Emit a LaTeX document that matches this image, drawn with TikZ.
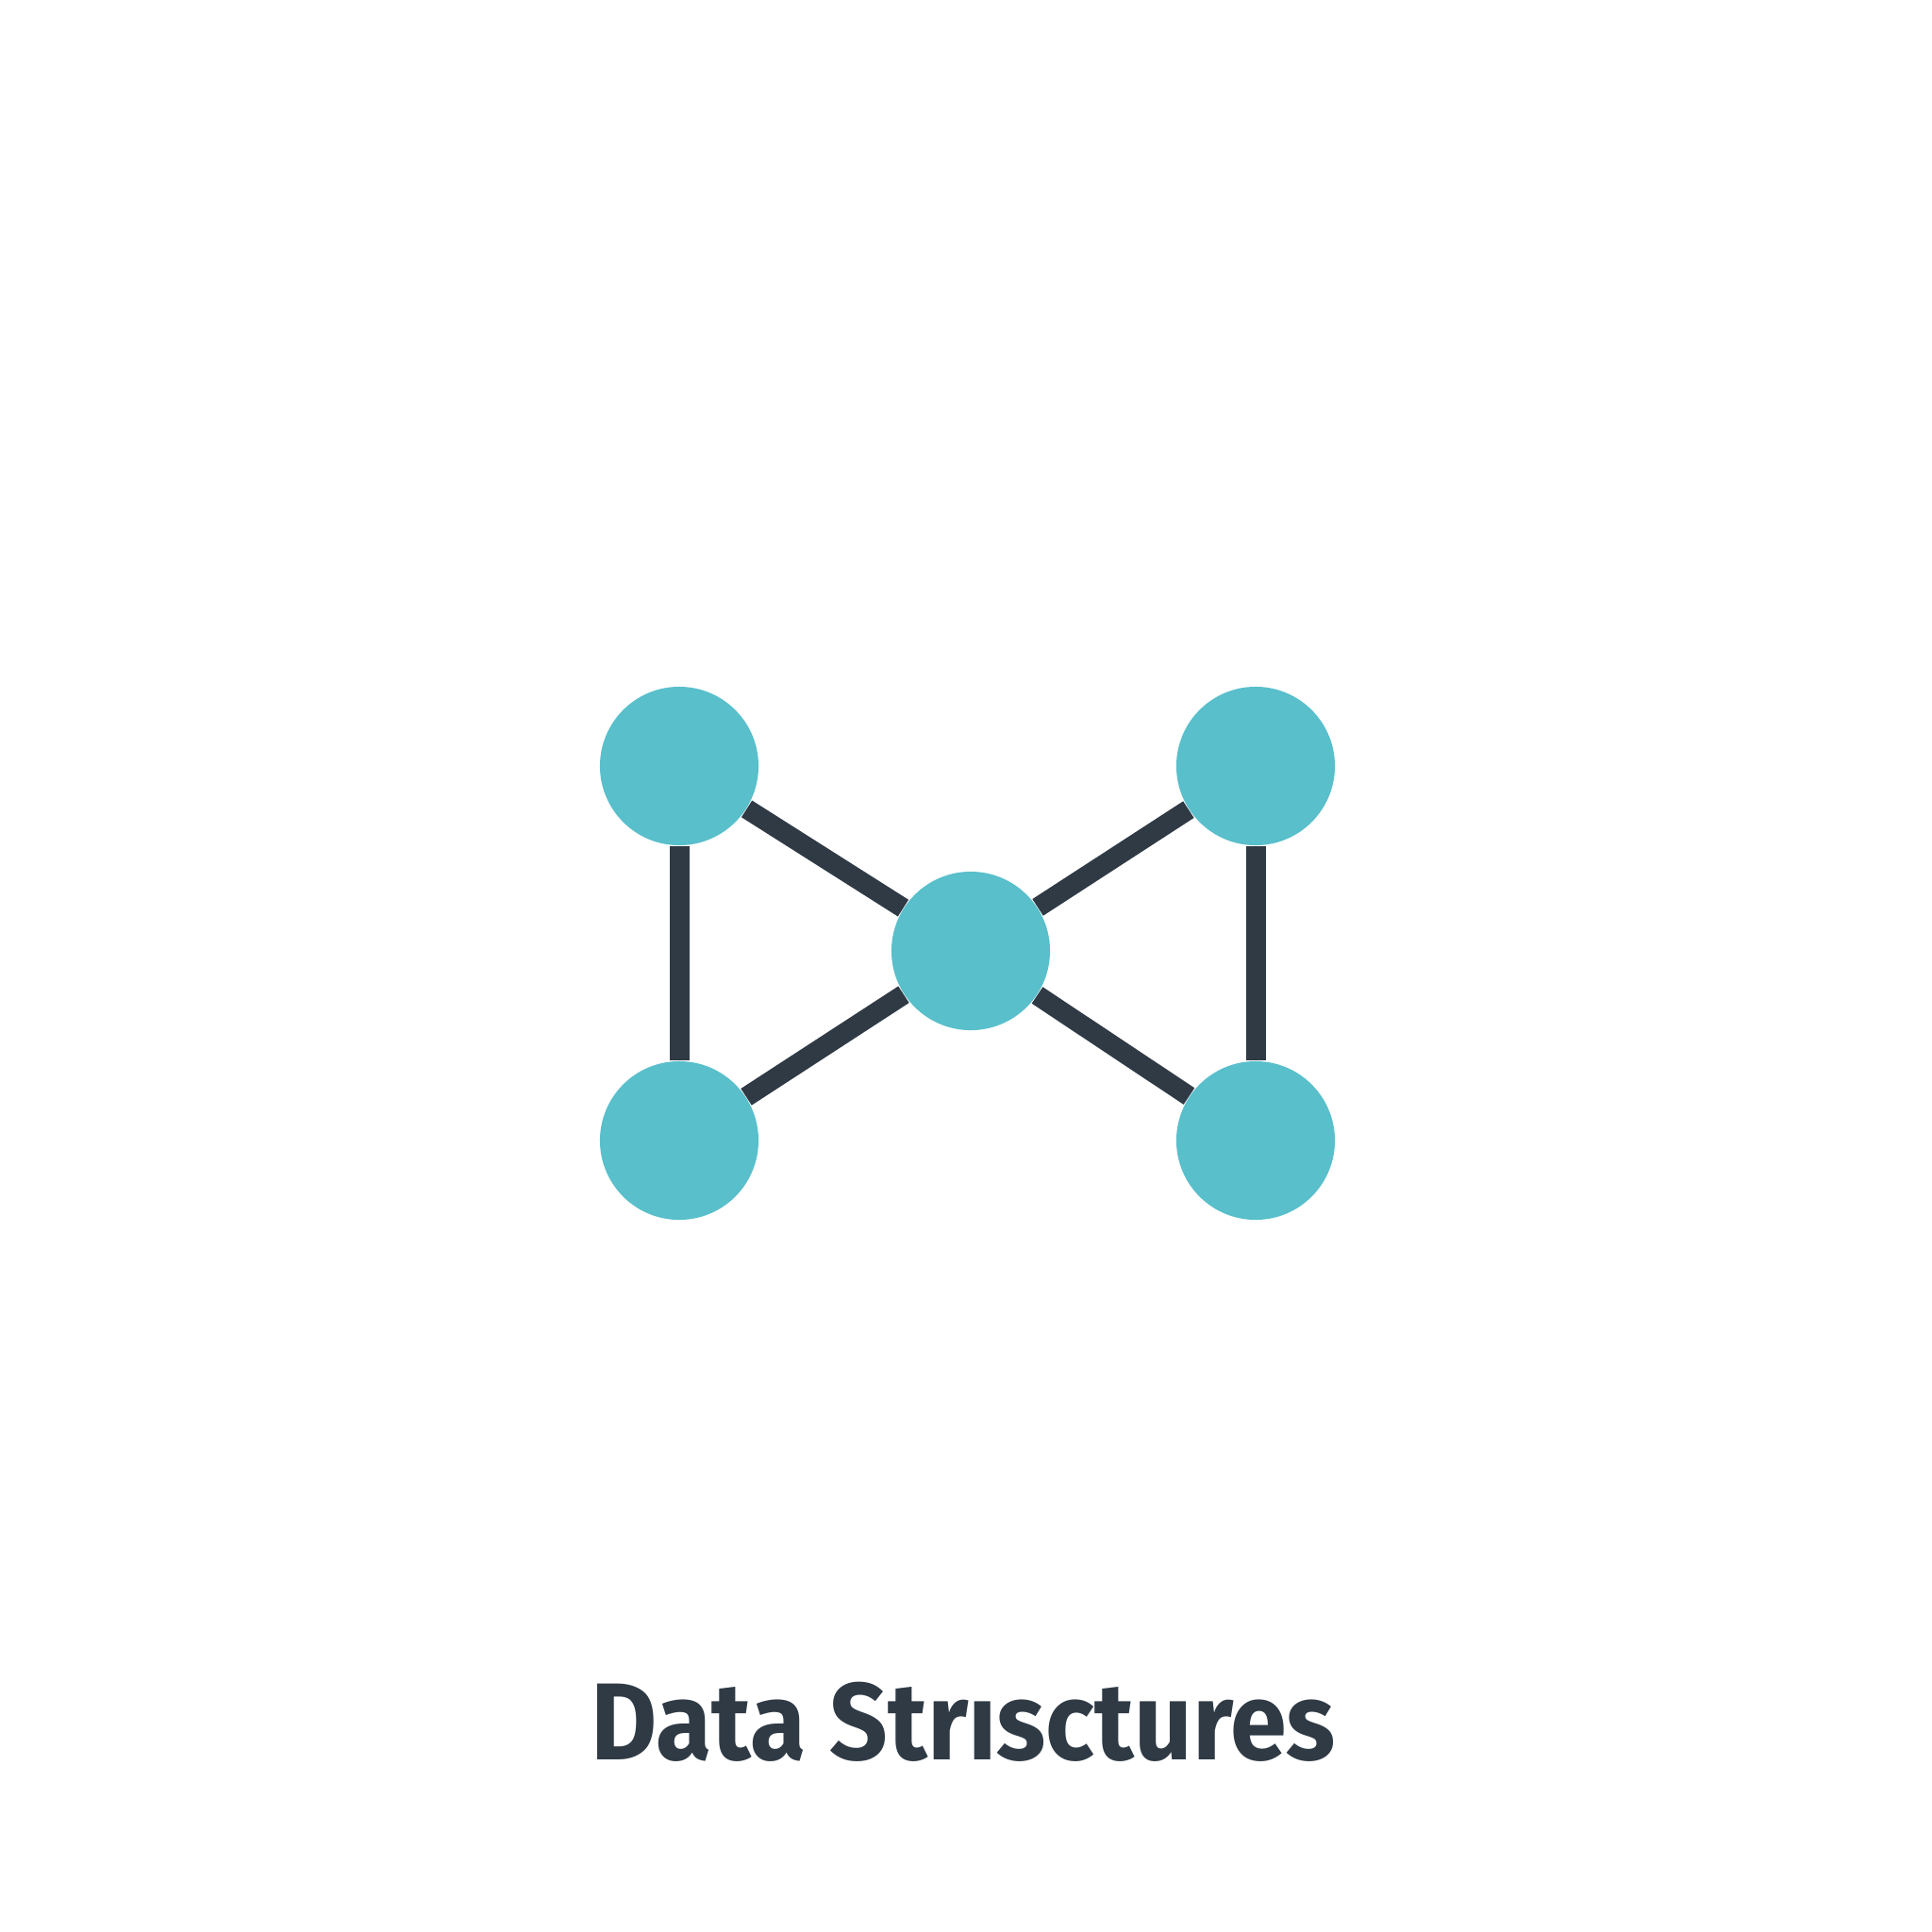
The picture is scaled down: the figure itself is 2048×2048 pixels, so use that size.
\documentclass[tikz,border=0pt]{standalone}
\usepackage{fontspec}
\setmainfont{Fira Sans}
\usepackage{tikz}
\definecolor{nodeteal}{HTML}{58BFCB}
\definecolor{edgedark}{HTML}{2F3A45}

\begin{document}
\begin{tikzpicture}[x=0.01cm, y=-0.01cm,
        vertex/.style={circle, fill=nodeteal, draw=none, minimum size=1.68cm, inner sep=0pt},
        link/.style={draw=edgedark, line width=0.21cm}]
        \useasboundingbox (0,0) rectangle (2048,2048);
        % vertices
        \node[vertex] (tl) at (720,812){};
        \node[vertex] (tr) at (1331,812){};
        \node[vertex] (mid) at (1029,1008){};
        \node[vertex] (bl) at (720,1209){};
        \node[vertex] (br) at (1331,1209){};

        % links
        \path[link] (tl) -- (bl);
        \path[link] (tr) -- (br);
        \path[link] (tl) -- (mid);
        \path[link] (mid) -- (bl);
        \path[link] (mid) -- (tr);
        \path[link] (mid) -- (br);

        % title
        \node[anchor = base, text=edgedark, font=\fontsize{33}{40}\selectfont\bfseries, inner sep=0pt] (title) at (1021,1865){\scalebox{0.93}[1]{Data Strısctures}};
    \end{tikzpicture}
\end{document}
